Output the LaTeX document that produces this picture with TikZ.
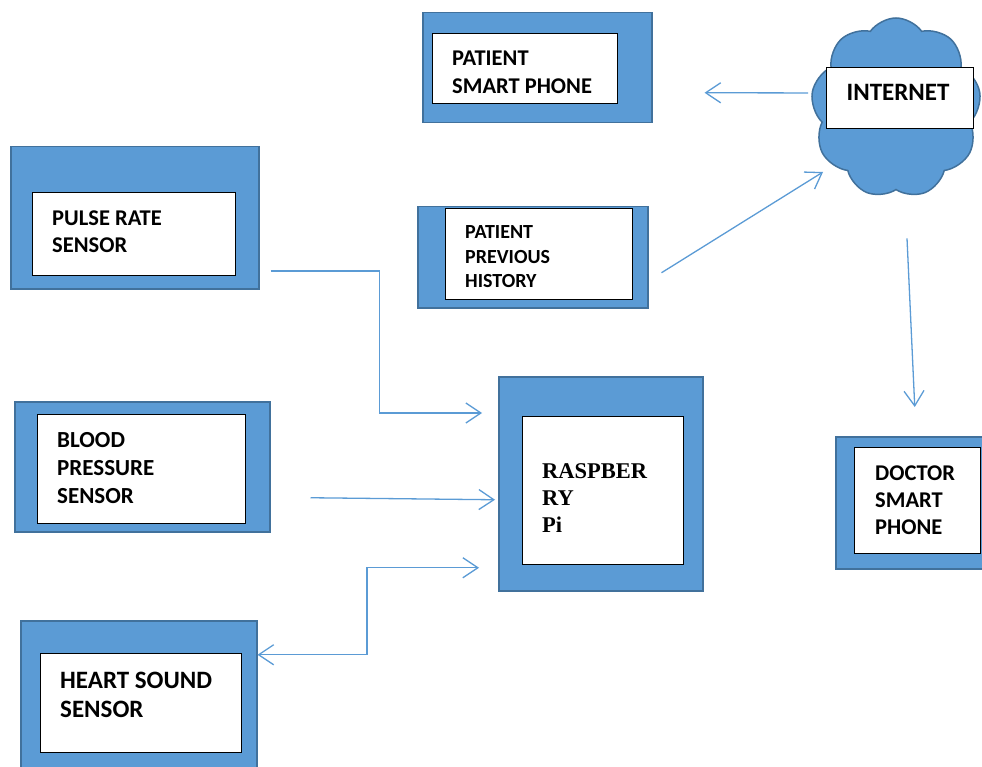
\documentclass[tikz,border=0pt]{standalone}
\usepackage{fontspec}
\setmainfont{Carlito}
\newfontfamily\rpfont{Liberation Serif}
\usetikzlibrary{shapes.symbols,arrows.meta,calc}
\definecolor{boxblue}{HTML}{5B9BD5}
\definecolor{boxedge}{HTML}{41719C}
\begin{document}
\begin{tikzpicture}[x=1pt,y=-1pt,
  outerbox/.style={draw=boxedge,fill=boxblue,line width=1.5pt,anchor=north west,inner sep=0pt},
  innerbox/.style={draw=black,fill=white,line width=0.9pt,anchor=north west,inner sep=0pt},
  label/.style={anchor=north west,inner sep=0pt,align=left},
  arr/.style={draw=boxblue,line width=1.3pt,-{Straight Barb[length=15pt,width=20pt,line width=1.3pt]}},
  biarr/.style={draw=boxblue,line width=1.3pt,{Straight Barb[length=15pt,width=20pt,line width=1.3pt]}-{Straight Barb[length=15pt,width=20pt,line width=1.3pt]}}]
\useasboundingbox (0,0) rectangle (982,767);

% patient smart phone
\node[outerbox,minimum width=229,minimum height=110] (phoneO) at (422,12) {};
\node[innerbox,minimum width=185,minimum height=70] (phoneI) at (432,33) {};
\node[label,font={\bfseries\fontsize{22.5}{28}\selectfont}] (phoneT) at (452,50.8) {PATIENT\\SMART PHONE};

% internet cloud
\node[cloud,cloud puffs=9,cloud puff arc=110,cloud ignores aspect,draw=boxedge,fill=boxblue,line width=1.5pt,minimum width=170,minimum height=180,inner sep=0pt] (cloud) at (896,108) {};
\node[innerbox,minimum width=147,minimum height=61] (netI) at (826,67) {};
\node[anchor=base,inner sep=0pt,font={\bfseries\fontsize{25}{30}\selectfont}] (netT) at (898,101) {INTERNET};

% pulse rate sensor
\node[outerbox,minimum width=248,minimum height=142] (pulseO) at (10,146) {};
\node[innerbox,minimum width=203,minimum height=83] (pulseI) at (32,192) {};
\node[label,font={\bfseries\fontsize{22.5}{27}\selectfont}] (pulseT) at (52,210.8) {PULSE RATE\\SENSOR};

% patient previous history
\node[outerbox,minimum width=230,minimum height=101] (histO) at (417,206) {};
\node[innerbox,minimum width=187,minimum height=91] (histI) at (445,208) {};
\node[label,font={\bfseries\fontsize{20}{24.5}\selectfont}] (histT) at (465,225.4) {PATIENT\\PREVIOUS\\HISTORY};

% blood pressure sensor
\node[outerbox,minimum width=255,minimum height=130] (bloodO) at (14,401) {};
\node[innerbox,minimum width=208,minimum height=109] (bloodI) at (37,414) {};
\node[label,font={\bfseries\fontsize{23}{28}\selectfont}] (bloodT) at (57,432.5) {BLOOD\\PRESSURE\\SENSOR};

% raspberry pi
\node[outerbox,minimum width=204,minimum height=214] (raspO) at (498,376) {};
\node[innerbox,minimum width=161,minimum height=148] (raspI) at (522,416) {};
\node[label,font={\rpfont\bfseries\fontsize{22.5}{27}\selectfont}] (raspT) at (542,463.1) {RASPBER\\RY\\Pi};

% doctor smart phone
\node[outerbox,minimum width=150,minimum height=132] (docO) at (835,436) {};
\node[innerbox,minimum width=126,minimum height=106] (docI) at (854,447) {};
\node[label,font={\bfseries\fontsize{22.5}{27}\selectfont}] (docT) at (875,465.8) {DOCTOR\\SMART\\PHONE};

% heart sound sensor
\node[outerbox,minimum width=236,minimum height=152] (heartO) at (20,620) {};
\node[innerbox,minimum width=201,minimum height=99] (heartI) at (40,653) {};
\node[label,font={\bfseries\fontsize{25}{29}\selectfont}] (heartT) at (60,672.2) {HEART SOUND\\SENSOR};

% connectors
\draw[arr] ($(netI.west)+(-18,-5)$) -- ($(phoneO.east)+(52,25)$);
\draw[arr] ($(histO.east)+(13,15.5)$) -- ($(cloud.center)+(-73,64)$);
\draw[arr] ($(cloud.south)+(11,48)$) -- ($(docO.north)+(4,-29)$);
\draw[arr] ($(pulseO.north east)+(11,125)$) -- ++(109,0) |- ($(raspO.north west)+(-16,37)$);
\draw[arr] ($(bloodO.east)+(40,31)$) -- ($(raspO.west)+(-3,16)$);
\draw[biarr] ($(raspO.west)+(-19,84)$) -- ++(-112,0) |- ($(heartO.east)+(0,-42)$);
\end{tikzpicture}
\end{document}
